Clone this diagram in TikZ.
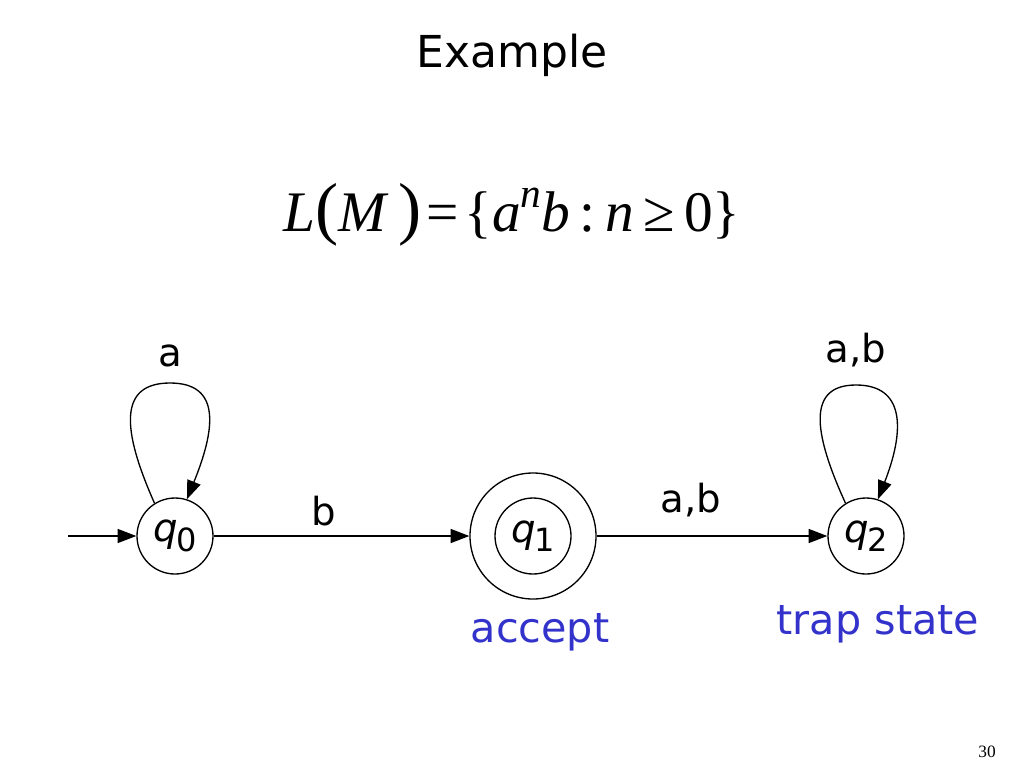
\documentclass[tikz,border=0pt]{standalone}
\usepackage{fontspec}
\setmainfont{DejaVu Sans}
\newfontfamily\timesfont{Liberation Serif}
\usetikzlibrary{arrows.meta}
\definecolor{labelblue}{RGB}{51,51,204}
\begin{document}
\begin{tikzpicture}[x=0.75pt,y=-0.75pt,
  state/.style={circle,draw,line width=1pt,minimum size=57pt,inner sep=0pt,font=\fontsize{29}{32}\selectfont},
  outer/.style={circle,draw,line width=1pt,minimum size=94.5pt,inner sep=0pt},
  edge/.style={line width=1pt,-{Triangle[length=14pt,width=10.5pt]}},
  lbl/.style={font=\fontsize{29}{32}\selectfont,inner sep=0pt},
  bluelbl/.style={font=\fontsize{31}{36}\selectfont,text=labelblue,inner sep=0pt}]
\useasboundingbox (0,0) rectangle (1024,768);
% title and formula
\node (title) at (512,55) {\fontsize{33}{40}\selectfont Example};
\node (formula) at (512,215) {\timesfont\fontsize{43}{54}\selectfont
  \textit{L}{\fontsize{52}{52}\selectfont(}\textit{M}\,{\fontsize{52}{52}\selectfont)}\kern4pt=\kern4pt\{\textit{a}\raisebox{0.42em}{\fontsize{31}{31}\selectfont\textit{n}}\textit{b}\,:\,\textit{n}\,≥\,0\}};
% states
\node[state] (q0) at (175,536) {$\mathit{q}$\kern-1pt\raisebox{-0.25em}{\fontsize{24}{26}\selectfont 0}};
\node[state] (q1) at (533,536) {$\mathit{q}$\kern-1pt\raisebox{-0.25em}{\fontsize{24}{26}\selectfont 1}};
\node[outer] (q1o) at (533,536) {};
\node[state] (q2) at (866,536) {$\mathit{q}$\kern-1pt\raisebox{-0.25em}{\fontsize{24}{26}\selectfont 2}};
\coordinate (start) at (68,536);
% edges
\draw[edge] (start) -- (q0);
\draw[edge] (q0) -- node[lbl,pos=0.43,yshift=19pt] {b} (q1o);
\draw[edge] (q1o) -- node[lbl,pos=0.41,yshift=27pt] {a,b} (q2);
\draw[edge] (q0.122) .. controls (122,430) and (118,383) .. (170,383)
  node[lbl,yshift=20pt] {a}
  .. controls (222,383) and (215,430) .. (q0.72);
\draw[edge] (q2.122) .. controls (812,430) and (808,385) .. (856,385)
  node[lbl,yshift=26pt] {a,b}
  .. controls (905,385) and (905,430) .. (q2.72);
% annotations
\node[bluelbl] (acc) at (540,632) {accept};
\node[bluelbl] (trap) at (878,624) {trap state};
\node (page) at (987,752) {\timesfont\fontsize{13}{15}\selectfont 30};
\end{tikzpicture}
\end{document}
